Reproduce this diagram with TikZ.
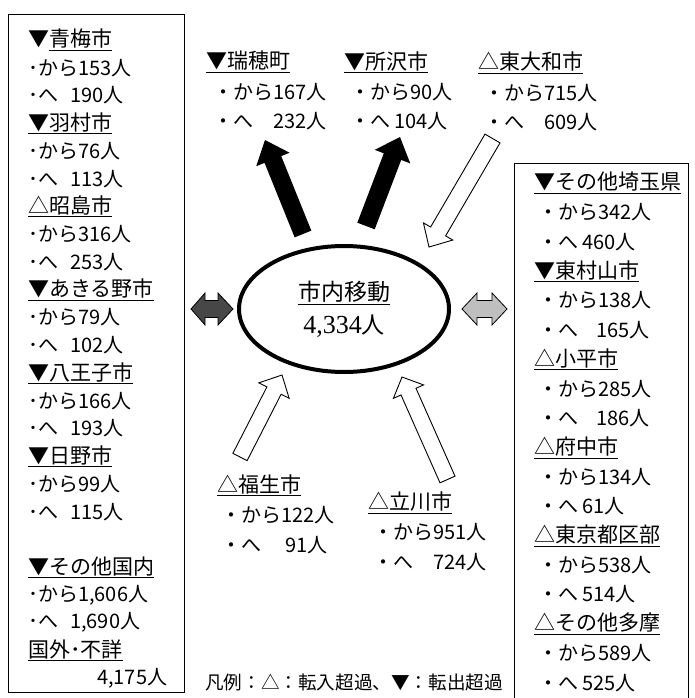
\documentclass[tikz,border=0pt]{standalone}
\usepackage{fontspec}
\newfontfamily\jp{Noto Sans CJK JP}
\newfontfamily\numserif{Liberation Serif}
\usetikzlibrary{calc,shapes.geometric}
\newcommand\fatarrow[6]{%
  \coordinate (#1hb) at ($(#2)!#5!(#1)$);
  \path[#6] ($(#1)!#3!90:(#2)$) -- ($(#1hb)!#3!90:(#2)$) -- ($(#1hb)!#4!90:(#2)$) -- (#2) -- ($(#1hb)!#4!-90:(#2)$) -- ($(#1hb)!#3!-90:(#2)$) -- ($(#1)!#3!-90:(#2)$) -- cycle;}
\tikzset{
  txt/.style={anchor=west, inner sep=0pt, font=\jp\fontsize{20}{20}\selectfont},
  hdtxt/.style={anchor=west, inner sep=0pt, font=\jp\fontsize{21}{21}\selectfont},
  bigtxt/.style={inner sep=0pt, font=\jp\fontsize{23}{24}\selectfont},
  box/.style={draw, line width=1.3pt},
  solidarr/.style={fill=black},
  hollowarr/.style={draw, fill=white, line width=0.9pt, line join=miter},
  dblarr/.style={draw=black, line width=0.8pt, line join=miter},
}
\begin{document}
\begin{tikzpicture}[x=1pt,y=-1pt]
\useasboundingbox (0,0) rectangle (695,698);
% boxes
\node[box, anchor=north west, minimum width=176pt, minimum height=678pt, inner sep=0pt] (lbox) at (8,14) {};
\node[box, anchor=north west, minimum width=174pt, minimum height=540pt, inner sep=0pt] (rbox) at (514,163) {};
% left box texts
\node[hdtxt] (l1) at (28,40.00) {▼\underline{青梅市}};
\node[txt] (l2) at (28,67.75) {･から153人};
\node[txt] (l3) at (28,95.50) {･へ\hspace{.6em}190人};
\node[hdtxt] (l4) at (28,123.25) {\underline{▼羽村市}};
\node[txt] (l5) at (28,151.00) {･から76人};
\node[txt] (l6) at (28,178.75) {･へ\hspace{.6em}113人};
\node[hdtxt] (l7) at (28,206.50) {\underline{△昭島市}};
\node[txt] (l8) at (28,234.25) {･から316人};
\node[txt] (l9) at (28,262.00) {･へ\hspace{.6em}253人};
\node[hdtxt] (l10) at (28,289.75) {\underline{▼あきる野市}};
\node[txt] (l11) at (28,317.50) {･から79人};
\node[txt] (l12) at (28,345.25) {･へ\hspace{.6em}102人};
\node[hdtxt] (l13) at (28,373.00) {\underline{▼八王子市}};
\node[txt] (l14) at (28,400.75) {･から166人};
\node[txt] (l15) at (28,428.50) {･へ\hspace{.6em}193人};
\node[hdtxt] (l16) at (28,456.25) {\underline{▼日野市}};
\node[txt] (l17) at (28,484.00) {･から99人};
\node[txt] (l18) at (28,511.75) {･へ\hspace{.6em}115人};
\node[hdtxt] (l19) at (28,567.25) {\underline{▼その他国内}};
\node[txt] (l20) at (28,595.00) {･から1,606人};
\node[txt] (l21) at (28,622.75) {･へ\hspace{.6em}1,690人};
\node[hdtxt] (l22) at (28,650.50) {\underline{国外･不詳}};
\node[txt] (l23) at (97,678.25) {4,175人};
% right box texts
\node[hdtxt] (r1) at (534,183.0) {\underline{▼その他埼玉県}};
\node[txt] (r2) at (538,212.4) {・から342人};
\node[txt] (r3) at (538,241.8) {・へ 460人};
\node[hdtxt] (r4) at (534,271.2) {\underline{▼東村山市}};
\node[txt] (r5) at (538,300.6) {・から138人};
\node[txt] (r6) at (538,330.0) {・へ\hspace{.9em}165人};
\node[hdtxt] (r7) at (534,359.4) {\underline{△小平市}};
\node[txt] (r8) at (538,388.8) {・から285人};
\node[txt] (r9) at (538,418.2) {・へ\hspace{.9em}186人};
\node[hdtxt] (r10) at (534,447.6) {\underline{△府中市}};
\node[txt] (r11) at (538,477.0) {・から134人};
\node[txt] (r12) at (538,506.4) {・へ 61人};
\node[hdtxt] (r13) at (534,535.8) {\underline{△東京都区部}};
\node[txt] (r14) at (538,565.2) {・から538人};
\node[txt] (r15) at (538,594.6) {・へ 514人};
\node[hdtxt] (r16) at (534,624.0) {\underline{△その他多摩}};
\node[txt] (r17) at (538,653.4) {・から589人};
\node[txt] (r18) at (538,682.8) {・へ 525人};
% top labels
\node[hdtxt] (mz1) at (206,62) {\underline{▼瑞穂町}};
\node[txt] (mz2) at (213,92) {・から167人};
\node[txt] (mz3) at (213,121) {・へ　232人};
\node[hdtxt] (tz1) at (344,62) {\underline{▼所沢市}};
\node[txt] (tz2) at (350,92) {・から90人};
\node[txt] (tz3) at (350,121) {・へ 104人};
\node[hdtxt] (hy1) at (478,63) {\underline{△東大和市}};
\node[txt] (hy2) at (484,93) {・から715人};
\node[txt] (hy3) at (484,122) {・へ　609人};
% bottom labels
\node[hdtxt] (fs1) at (217,485) {\underline{△福生市}};
\node[txt] (fs2) at (221,515) {・から122人};
\node[txt] (fs3) at (221,545) {・へ　 91人};
\node[hdtxt] (tk1) at (368,503) {\underline{△立川市}};
\node[txt] (tk2) at (373,532) {・から951人};
\node[txt] (tk3) at (373,562) {・へ　724人};
% legend
\node[txt, font=\jp\fontsize{18.6}{19}\selectfont] (leg) at (205,682) {凡例：△：転入超過、▼：転出超過};
% center ellipse
\node[draw, ellipse, line width=4pt, minimum width=210pt, minimum height=126pt, inner sep=0pt] (city) at (344,309) {};
\node[bigtxt] (ct1) at (344,293) {\underline{市内移動}};
\node[bigtxt] (ct2) at (344,326) {{\numserif\fontsize{26}{26}\selectfont 4,334}人};
% solid arrows (outflow)
\coordinate (mzT) at (303,234); \coordinate (mzH) at (265,140);
\fatarrow{mzT}{mzH}{9pt}{18pt}{21pt}{solidarr}
\coordinate (tzT) at (366,226); \coordinate (tzH) at (400,137);
\fatarrow{tzT}{tzH}{9.3pt}{19pt}{21pt}{solidarr}
% hollow arrows (inflow)
\coordinate (hyT) at (492.5,138.5); \coordinate (hyH) at (429,247);
\fatarrow{hyT}{hyH}{8.7pt}{17pt}{18pt}{hollowarr}
\coordinate (fsT) at (240,457); \coordinate (fsH) at (282,375);
\fatarrow{fsT}{fsH}{8pt}{17pt}{17.5pt}{hollowarr}
\coordinate (tkT) at (447.5,479.5); \coordinate (tkH) at (402,377);
\fatarrow{tkT}{tkH}{8.2pt}{16.5pt}{16pt}{hollowarr}
% double arrows
\coordinate (dlL) at (191,309); \coordinate (dlR) at (233,309);
\path[dblarr, fill=black!72] (dlL) -- (205,293) -- (205,300.5) -- (218,300.5) -- (218,293) -- (dlR) -- (218,325) -- (218,317.5) -- (205,317.5) -- (205,325) -- cycle;
\coordinate (drL) at (462,309); \coordinate (drR) at (507,309);
\path[dblarr, fill=black!25] (drL) -- (477,293) -- (477,300.5) -- (492,300.5) -- (492,293) -- (drR) -- (492,325) -- (492,317.5) -- (477,317.5) -- (477,325) -- cycle;
\end{tikzpicture}
\end{document}
